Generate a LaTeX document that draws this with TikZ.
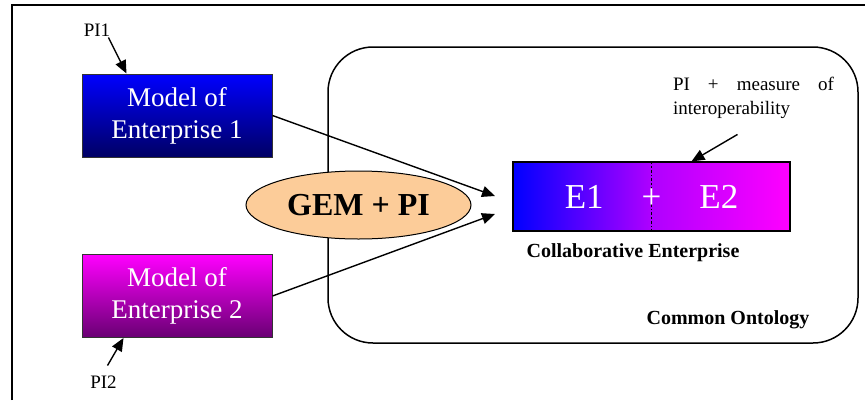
\documentclass[tikz,border=0pt]{standalone}
\usepackage{fontspec}
\setmainfont{Liberation Serif}
\usepackage{tikz}
\usetikzlibrary{arrows.meta,shapes.geometric}
\definecolor{entblue}{RGB}{0,0,255}
\definecolor{entnavy}{RGB}{0,0,100}
\definecolor{entpink}{RGB}{255,0,255}
\definecolor{entplum}{RGB}{105,0,115}
\definecolor{entviolet}{RGB}{175,0,255}
\definecolor{gemtan}{RGB}{252,204,153}

\begin{document}
\begin{tikzpicture}[
  x=1pt, y=-1pt,
  model/.style={draw=black!80, line width=1pt, minimum width=190pt, minimum height=83pt, inner sep=0pt, align=center, text=white, font=\fontsize{27}{32}\selectfont},
  onto/.style={draw, line width=1.5pt, rounded corners=45pt, minimum width=530pt, minimum height=296pt, inner sep=0pt},
  gem/.style={ellipse, draw, line width=1pt, fill=gemtan, minimum width=225pt, minimum height=68pt, inner sep=0pt, font=\fontsize{32}{36}\selectfont\bfseries},
  collab/.style={draw, line width=1.2pt, minimum width=277pt, minimum height=69pt, inner sep=0pt, left color=entblue, right color=entpink, middle color=entviolet},
  arr/.style={-{Triangle[length=13pt,width=11pt]}, line width=1.4pt},
  lbl/.style={font=\fontsize{19}{24}\selectfont, inner sep=2pt},
  caption/.style={font=\fontsize{20}{24}\selectfont\bfseries, inner sep=0pt}
]
\useasboundingbox (0,0) rectangle (865,400);
% page frame (only top and left edges fall inside)
\draw[line width=1.8pt] (12,400) -- (12,5) -- (865,5);
% common ontology region
\node[onto] (onto) at (593,195) {};
\node[caption] (ontocap) at (728,320) {Common Ontology};
% the two enterprise models
\node[model, top color=entblue, bottom color=entnavy] (model1) at (177,115.5) {Model of\\Enterprise 1};
\node[model, top color=entpink, bottom color=entplum] (model2) at (177,296) {Model of\\Enterprise 2};
\node[lbl] (pi1) at (97,30) {PI1};
\node[lbl] (pi2) at (103.5,382) {PI2};
\draw[arr] ([shift={(-4pt,1pt)}]pi1.south east) -- ([xshift=45pt]model1.north west);
\draw[arr] ([shift={(4pt,8pt)}]pi2.north) -- ([xshift=42pt]model2.south west);
% mapping
\node[gem] (gem) at (358.5,205) {GEM + PI};
\coordinate (in1) at (495,196);
\coordinate (in2) at (495,214);
\draw[arr] (model1.east) -- (in1);
\draw[arr] (model2.east) -- (in2);
% collaborative enterprise
\node[collab] (ebox) at (651.5,196.5) {};
\draw[line width=1.5pt, dash dot] (ebox.north) -- (ebox.south);
\node[text=white, font=\fontsize{35}{40}\selectfont, inner sep=0pt] (etext) at (ebox.center) {E1\hspace{38pt}+\hspace{38pt}E2};
\node[caption] (ecap) at (633,253) {Collaborative Enterprise};
\node[lbl, text width=161pt, align=left, inner sep=0pt] (measure) at (753.5,97.5) {\hbox to 161pt{PI\hfill+\hfill measure\hfill of}\\interoperability};
\draw[arr] ([shift={(-16pt,-16pt)}]measure.south) -- ([xshift=40pt]ebox.north);
\end{tikzpicture}
\end{document}
